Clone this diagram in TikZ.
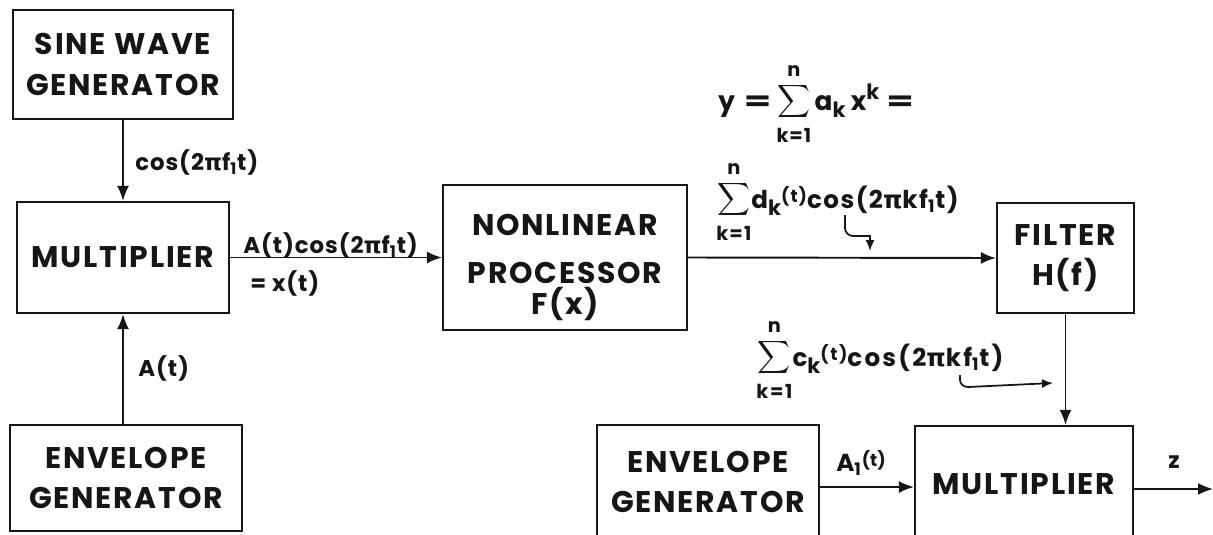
\documentclass[tikz,border=0pt]{standalone}
\usepackage{fontspec}
\setmainfont{Poppins}
\newfontfamily\greekfont{DejaVu Sans}
\usetikzlibrary{arrows.meta}
\usepackage{xcolor}
\definecolor{ink}{RGB}{22,22,22}
\definecolor{paper}{RGB}{255,255,255}
\newcommand{\piu}{{\greekfont π}}
\newcommand{\argt}{\raisebox{3pt}{\fontsize{10}{10}\selectfont(t)}}
\newcommand{\lowk}{\raisebox{-4pt}{\fontsize{12}{12}\selectfont k}}
\newcommand{\highk}{\raisebox{6pt}{\fontsize{12}{12}\selectfont k}}
\newcommand{\wideeq}{\scalebox{1.5}[1]{=}}
\newcommand{\limtxt}[1]{\mbox{\fontsize{11}{11}\selectfont\bfseries #1}}
\newcommand{\sumkn}{$\mathop{\scalebox{1.3}{$\displaystyle\sum$}}\limits_{\limtxt{\rule{0pt}{11pt}k=1}}^{\limtxt{\rule[-3pt]{0pt}{3pt}n}}$}

\tikzset{
  blockbox/.style={draw=ink, line width=1.3pt, align=center, inner sep=0pt, text=ink,
    font=\fontsize{17}{23}\selectfont\bfseries\addfontfeature{LetterSpace=6}},
  sigflow/.style={draw=ink, line width=1.1pt, -{Latex[length=3mm,width=2.4mm]}},
  hookflow/.style={draw=ink, line width=1pt, -{Latex[length=2.2mm,width=1.8mm]}},
  siglabel/.style={anchor=west, inner sep=0pt, text=ink,
    font=\fontsize{13}{15}\selectfont\bfseries\addfontfeature{LetterSpace=4}},
  sumlabel/.style={siglabel,
    font=\fontsize{14}{16}\selectfont\bfseries\addfontfeature{LetterSpace=6}}
}

\begin{document}
\begin{tikzpicture}[x=0.02cm,y=-0.02cm]

  % ── PAGE ───────────────────────────────────────────────────────────────────
  \fill[paper] (0,0) rectangle (1213,534);
  \clip (0,0) rectangle (1213,534);

  % ── LEFT CHAIN ─────────────────────────────────────────────────────────────
  \node[blockbox,minimum width=4.40cm,minimum height=2.18cm] (sinegen) at (123,64.5)
    {SINE WAVE\\GENERATOR};
  \node[blockbox,minimum width=4.24cm,minimum height=2.22cm] (multleft) at (123,257.5)
    {MULTIPLIER};
  \node[blockbox,minimum width=4.64cm,minimum height=2.12cm] (envleft) at (126,478)
    {ENVELOPE\\GENERATOR};

  \draw[sigflow] (sinegen.south) -- (multleft.north);
  \draw[sigflow] (envleft.north -| multleft.south) -- (multleft.south);

  \node[siglabel] (coslbl) at (135,162) {cos(2\piu f\textsubscript{1}t)};
  \node[siglabel] (envlbl) at (138,368) {A(t)};

  % ── NONLINEAR PROCESSOR AND FILTER ─────────────────────────────────────────
  \node[blockbox,minimum width=4.88cm,minimum height=2.90cm] (nonlin) at (565,257.5)
    {\rule{0pt}{24pt}NONLINEAR\\[4pt]PROCESSOR\\[-5pt]F(x)};
  \node[blockbox,minimum width=2.74cm,minimum height=2.20cm] (filter) at (1065.5,258)
    {FILTER\\H(f)};

  \draw[sigflow] (multleft.east) -- (nonlin.west);
  \draw[sigflow] (nonlin.east) -- (filter.west);

  \node[siglabel] (xlbl) at (243,245) {A(t)cos(2\piu f\textsubscript{1}t)};
  \node[siglabel] (xeq) at (250,283) {= x(t)};

  \node[sumlabel,font=\fontsize{15}{17}\selectfont\bfseries\addfontfeature{LetterSpace=5}]
    (polylbl) at (718,104)
    {y\hspace{5pt}\wideeq\hspace{3pt}\sumkn\hspace{2pt}a\lowk\hspace{3pt}x\highk\hspace{4pt}\wideeq};
  \node[sumlabel] (dsum) at (716,202)
    {\sumkn d\lowk\argt cos(2\piu kf\textsubscript{1}t)};

  % hook from the label down to the line
  \coordinate (dhook) at (845,215);
  \coordinate (dtip) at (870,251);
  \draw[hookflow] (dhook) -- (845,228) to[out=-90,in=180] (853,236) -- (870,236) -- (dtip);

  % ── RIGHT CHAIN ────────────────────────────────────────────────────────────
  \node[blockbox,minimum width=4.44cm,minimum height=2.28cm] (envright) at (708,482)
    {ENVELOPE\\GENERATOR};
  \node[blockbox,minimum width=4.36cm,minimum height=2.32cm] (multright) at (1024,484)
    {MULTIPLIER};

  \draw[sigflow] (filter.south) -- (filter.south |- multright.north);
  \draw[sigflow] ([yshift=-0.1cm]envright.east) -- ([yshift=-0.1cm]envright.east -| multright.west);

  \coordinate (zend) at (1213,489);
  \draw[sigflow] (multright.east |- zend) -- (zend);

  \node[sumlabel,font=\fontsize{14}{16}\selectfont\bfseries\addfontfeature{LetterSpace=9}]
    (csum) at (756,360)
    {\sumkn c\lowk\argt cos(2\piu kf\textsubscript{1}t)};
  \coordinate (chook) at (960,375);
  \coordinate (ctip) at (1053,383);
  \draw[hookflow] (chook) -- (960,380) to[out=-90,in=180] (968,387) -- (ctip);

  \node[siglabel,font=\fontsize{14}{16}\selectfont\bfseries] (alabel) at (836,463)
    {A\textsubscript{1}\argt};
  \node[siglabel] (zlabel) at (1168,462) {z};

\end{tikzpicture}
\end{document}
